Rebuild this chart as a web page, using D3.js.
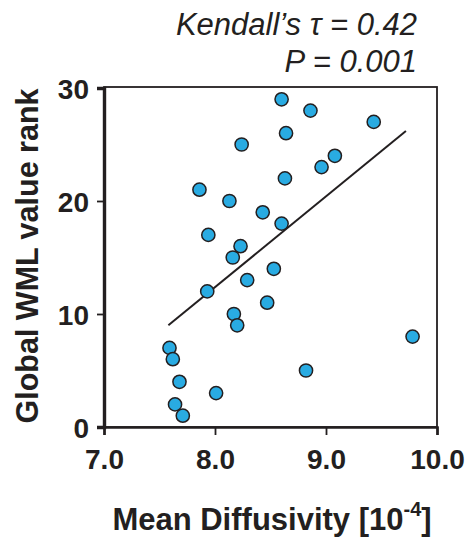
<!DOCTYPE html>
<html>
<head>
<meta charset="utf-8">
<script src="https://cdn.jsdelivr.net/npm/d3@7"></script>
<style>
  body { margin: 0; background: #fff; }
  text { font-family: "Liberation Sans", Arial, sans-serif; fill: #231f20; }
</style>
</head>
<body>
<div id="chart"></div>
<script>
// data
var diffusivity = [8.60, 8.86, 9.43, 8.64, 8.24, 9.08, 8.96, 8.63, 7.86, 8.13,
  8.43, 8.60, 7.94, 8.23, 8.16, 8.53, 8.29, 7.93, 8.47, 8.17,
  8.20, 9.78, 7.59, 7.62, 8.82, 7.68, 8.01, 7.64, 7.71];
var wmlRank = [29, 28, 27, 26, 25, 24, 23, 22, 21, 20,
  19, 18, 17, 16, 15, 14, 13, 12, 11, 10,
  9, 8, 7, 6, 5, 4, 3, 2, 1];
var fitX = [7.58, 9.72];
var fitY = [9.0, 26.2];
var xTicks = [7, 8, 9, 10];
var yTicks = [0, 10, 20, 30];

var W = 466, H = 543;
var mLeft = 104, mRight = 437, mTop = 87, mBottom = 427;

var svg = d3.select("#chart").append("svg")
  .attr("width", W)
  .attr("height", H);

var x = d3.scaleLinear().domain([7, 10]).range([mLeft, mRight]);
var y = d3.scaleLinear().domain([0, 30]).range([mBottom, mTop + 1]);

// frame
svg.append("rect")
  .attr("x", mLeft).attr("y", mTop)
  .attr("width", mRight - mLeft).attr("height", mBottom - mTop)
  .attr("fill", "none")
  .attr("stroke", "#231f20")
  .attr("stroke-width", 1.8);

// axes
var xAxis = svg.append("g")
  .attr("transform", "translate(0," + mBottom + ")")
  .call(d3.axisBottom(x).tickValues(xTicks).tickSize(8).tickFormat(d3.format(".1f")));
var yAxis = svg.append("g")
  .attr("transform", "translate(" + mLeft + ",0)")
  .call(d3.axisLeft(y).tickValues(yTicks).tickSize(7));

[xAxis, yAxis].forEach(function (g) {
  g.select(".domain").attr("stroke", "#231f20");
  g.selectAll(".tick line").attr("stroke", "#231f20").attr("stroke-width", 1.8);
  g.selectAll(".tick text")
    .attr("fill", "#231f20")
    .style("font-family", "'Liberation Sans', Arial, sans-serif")
    .style("font-weight", "bold")
    .style("font-size", "28px");
});
xAxis.select(".domain").attr("stroke-width", 2.6);
yAxis.select(".domain").attr("stroke-width", 3.4);
xAxis.selectAll(".tick text").attr("y", 22);
yAxis.selectAll(".tick text").attr("x", -15).attr("dy", "0.36em");

// regression line
svg.append("line")
  .attr("x1", x(fitX[0])).attr("y1", y(fitY[0]))
  .attr("x2", x(fitX[1])).attr("y2", y(fitY[1]))
  .attr("stroke", "#231f20")
  .attr("stroke-width", 2);

// points
svg.selectAll("circle.pt")
  .data(diffusivity.map(function (d, i) { return { x: d, y: wmlRank[i] }; }))
  .enter()
  .append("circle")
  .attr("class", "pt")
  .attr("cx", function (d) { return x(d.x); })
  .attr("cy", function (d) { return y(d.y); })
  .attr("r", 6.6)
  .attr("fill", "#29abe2")
  .attr("stroke", "#231f20")
  .attr("stroke-width", 1.5);

// axis titles
var xt = svg.append("text")
  .attr("x", 272).attr("y", 530)
  .attr("text-anchor", "middle")
  .style("font-weight", "bold")
  .style("font-size", "31px");
xt.append("tspan").text("Mean Diffusivity [10");
xt.append("tspan").attr("dy", -14).style("font-size", "20px").text("-4");
xt.append("tspan").attr("dy", 14).text("]");

svg.append("text")
  .attr("transform", "translate(38,256) rotate(-90)")
  .attr("text-anchor", "middle")
  .style("font-weight", "bold")
  .style("font-size", "30.5px")
  .text("Global WML value rank");

// statistics
svg.append("text")
  .attr("x", 417).attr("y", 35)
  .attr("text-anchor", "end")
  .style("font-style", "italic")
  .style("font-size", "31px")
  .text("Kendall\u2019s \u03c4 = 0.42");
svg.append("text")
  .attr("x", 417).attr("y", 72)
  .attr("text-anchor", "end")
  .style("font-style", "italic")
  .style("font-size", "31px")
  .text("P = 0.001");
</script>
</body>
</html>
